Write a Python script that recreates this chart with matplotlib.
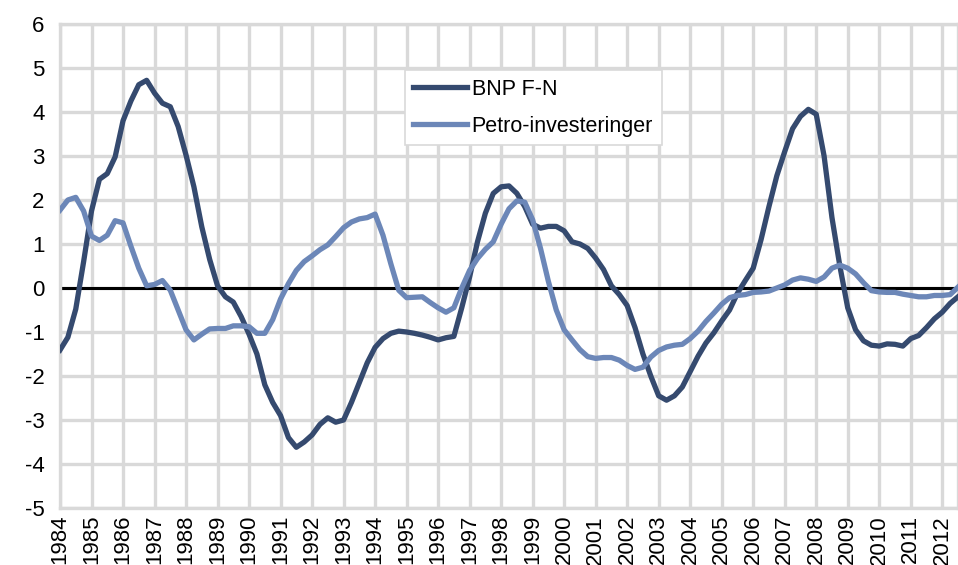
import numpy as np
import matplotlib
matplotlib.use("Agg")
import matplotlib.pyplot as plt

# quarterly series, 1984Q1 - 2012Q3
years = list(range(1984, 2013))

bnp = [-1.41, -1.12, -0.48, 0.6, 1.75, 2.47, 2.6, 2.98, 3.8, 4.25,
       4.62, 4.72, 4.43, 4.2, 4.12, 3.67, 3.02, 2.3, 1.39, 0.65,
       0.05, -0.2, -0.32, -0.65, -1.05, -1.5, -2.2, -2.6, -2.9, -3.4,
       -3.62, -3.5, -3.34, -3.1, -2.95, -3.05, -3.0, -2.6, -2.15, -1.7,
       -1.35, -1.15, -1.03, -0.98, -1.0, -1.03, -1.07, -1.12, -1.18, -1.13,
       -1.1, -0.45, 0.25, 1.05, 1.7, 2.15, 2.3, 2.32, 2.15, 1.85,
       1.45, 1.36, 1.4, 1.4, 1.3, 1.05, 1.0, 0.9, 0.68, 0.42,
       0.05, -0.15, -0.4, -0.9, -1.5, -2.0, -2.45, -2.55, -2.45, -2.25,
       -1.9, -1.55, -1.25, -1.02, -0.75, -0.5, -0.12, 0.17, 0.45, 1.1,
       1.85, 2.55, 3.1, 3.62, 3.9, 4.06, 3.95, 3.0, 1.6, 0.5,
       -0.45, -0.95, -1.2, -1.3, -1.32, -1.27, -1.28, -1.32, -1.15, -1.08,
       -0.9, -0.7, -0.55, -0.35, -0.2]

petro = [1.77, 2.0, 2.06, 1.75, 1.18, 1.08, 1.2, 1.53, 1.48, 0.95,
         0.45, 0.05, 0.08, 0.17, -0.05, -0.5, -0.95, -1.18, -1.05, -0.93,
         -0.92, -0.92, -0.86, -0.86, -0.88, -1.03, -1.03, -0.72, -0.25, 0.1,
         0.4, 0.6, 0.73, 0.87, 0.98, 1.17, 1.37, 1.5, 1.57, 1.6,
         1.68, 1.2, 0.55, -0.05, -0.22, -0.21, -0.2, -0.33, -0.45, -0.55,
         -0.45, 0.0, 0.4, 0.67, 0.88, 1.05, 1.45, 1.8, 1.98, 1.95,
         1.55, 0.9, 0.15, -0.5, -0.95, -1.18, -1.4, -1.56, -1.6, -1.58,
         -1.58, -1.64, -1.76, -1.85, -1.8, -1.57, -1.42, -1.34, -1.3, -1.28,
         -1.15, -0.98, -0.76, -0.57, -0.37, -0.22, -0.17, -0.15, -0.1, -0.09,
         -0.07, 0.0, 0.07, 0.18, 0.23, 0.2, 0.15, 0.25, 0.45, 0.52,
         0.45, 0.32, 0.12, -0.06, -0.09, -0.1, -0.1, -0.14, -0.17, -0.2,
         -0.2, -0.17, -0.17, -0.15, 0.02]

x = np.arange(len(bnp))

plt.rcParams['font.family'] = ['Liberation Sans', 'DejaVu Sans']
plt.rcParams['axes.unicode_minus'] = False

fig = plt.figure(figsize=(9.58, 5.65), dpi=100)
ax = fig.add_axes([60/958, 1 - 508/565, 1 - 60/958, (508 - 24)/565])

grid_c = "#d9d9d9"
ax.set_xlim(0, len(bnp) - 1)
ax.set_ylim(-5, 6)
ax.set_yticks(range(-5, 7))
ax.set_xticks(range(0, len(years) * 4, 4))
ax.set_xticklabels([str(y) for y in years], rotation=90)
ax.grid(True, color=grid_c, linewidth=2.4)
ax.set_axisbelow(True)
for s in ax.spines.values():
    s.set_color(grid_c)
    s.set_linewidth(2.4)
ax.tick_params(length=0, labelsize=16, colors="black")
ax.tick_params(axis='y', pad=11)
ax.tick_params(axis='x', pad=5)

ax.axhline(0, color="black", linewidth=2.2, zorder=2)

ax.plot(x, bnp, color="#354a6f", linewidth=3.8, label="BNP F-N", zorder=3)
ax.plot(x, petro, color="#6c87b8", linewidth=3.8, label="Petro-investeringer", zorder=3)

leg = ax.legend(loc="upper left", bbox_to_anchor=(0.384, 0.905), borderaxespad=0,
                fontsize=15.5, fancybox=False, framealpha=1, edgecolor=grid_c,
                handlelength=2.5, handletextpad=0.2, borderpad=0.4, labelspacing=0.75)
leg.get_frame().set_linewidth(1.2)

fig.savefig("out.png", dpi=100)
